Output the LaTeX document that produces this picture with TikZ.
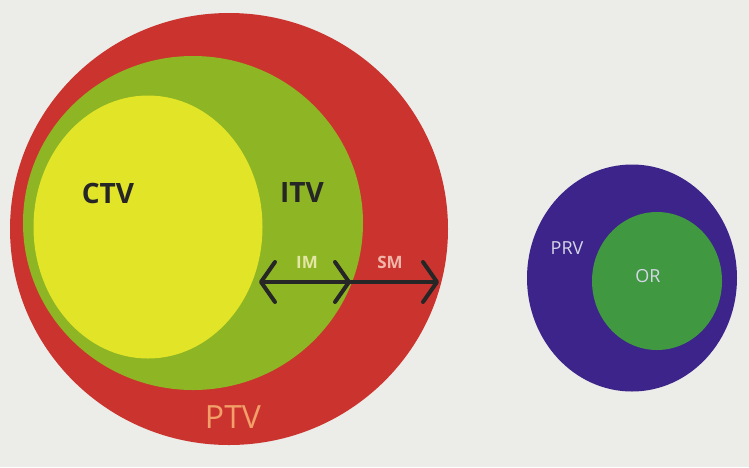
\documentclass[tikz,border=0pt]{standalone}
\usepackage{fontspec}
\setmainfont{Open Sans}
\usepackage{xcolor}
\usepackage{tikz}
\usetikzlibrary{shapes.geometric, arrows.meta}

\definecolor{paper}{RGB}{236,236,233}
\definecolor{ptvred}{RGB}{203,52,46}
\definecolor{itvgreen}{RGB}{141,181,36}
\definecolor{ctvyellow}{RGB}{226,228,40}
\definecolor{prvblue}{RGB}{60,36,138}
\definecolor{organgreen}{RGB}{64,152,64}
\definecolor{ptvtext}{RGB}{242,160,105}
\definecolor{imtext}{RGB}{228,230,165}
\definecolor{smtext}{RGB}{240,182,170}
\definecolor{prvtext}{RGB}{214,214,232}

\begin{document}
\begin{tikzpicture}[
    x=0.5pt, y=-0.5pt,
    volume/.style={ellipse, inner sep=0pt},
    label/.style={inner sep=0pt, font=\sffamily},
    margin/.style={line width=2pt, draw=black!85, line cap=round},
    barb/.tip={Straight Barb[length=7pt, width=20pt, round]}
]

% Paper
\fill [paper] (0,0) rectangle (749,467);

% Target volumes
\node [volume, fill=ptvred, minimum width=219pt, minimum height=216pt] (ptv) at (229,229) {};
\node [volume, fill=itvgreen, minimum width=170pt, minimum height=167pt] (itv) at (193,223) {};
\node [volume, fill=ctvyellow, minimum width=114.5pt, minimum height=131.5pt] (ctv) at (148,227) {};

% Organ at risk
\node [volume, fill=prvblue, minimum width=105pt, minimum height=113.5pt] (prv) at (632,278) {};
\node [volume, fill=organgreen, minimum width=65pt, minimum height=69pt] (or) at (657,281) {};

% Labels
\node [label, font=\bfseries\fontsize{14}{16}\selectfont, text=black!85] (ctvlabel) at (108,193) {CTV};
\node [label, font=\bfseries\fontsize{14}{16}\selectfont, text=black!85] (itvlabel) at (302,192) {ITV};
\node [label, font=\bfseries\fontsize{8.5}{10}\selectfont, text=imtext] (imlabel) at (307,262) {IM};
\node [label, font=\bfseries\fontsize{8.5}{10}\selectfont, text=smtext] (smlabel) at (390,262) {SM};
\node [label, font=\fontsize{16}{18}\selectfont, text=ptvtext] (ptvlabel) at (233,417) {PTV};
\node [label, font=\fontsize{9}{11}\selectfont, text=prvtext] (prvlabel) at (567,248) {PRV};
\node [label, font=\fontsize{9}{11}\selectfont, text=prvtext] (orlabel) at (648,276) {OR};

% Margins
\coordinate (imstart) at (259,282);
\coordinate (imend) at (351,282);
\coordinate (smend) at (439,282);
\draw [margin, barb-barb] (imstart) -- (imend);
\draw [margin, -barb] (imend) -- (smend);

\end{tikzpicture}
\end{document}
